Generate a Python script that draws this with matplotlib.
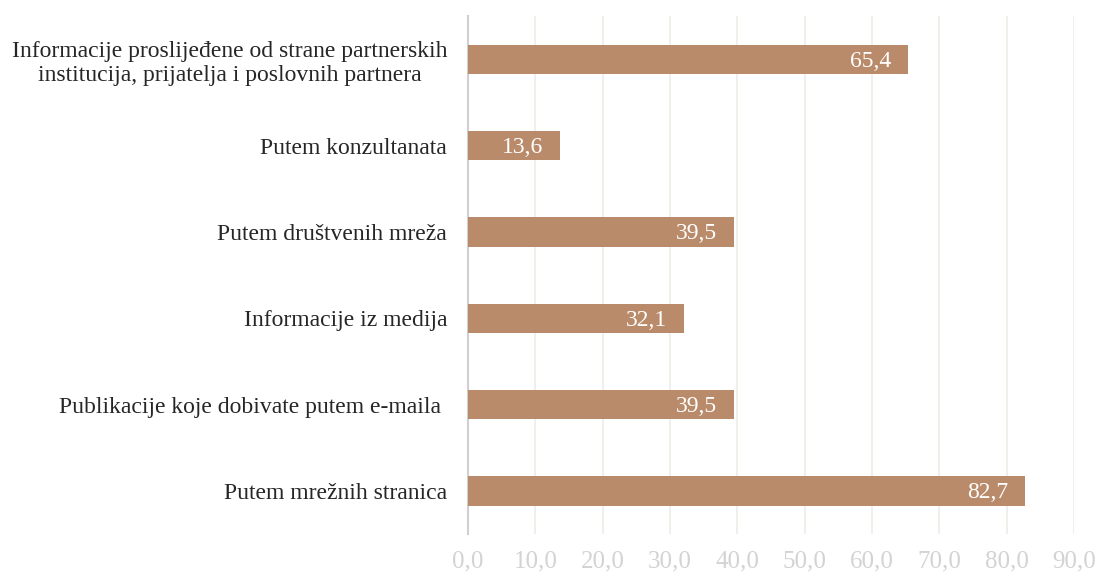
import numpy as np
import matplotlib.pyplot as plt

plt.rcParams['font.family'] = ['Liberation Serif', 'DejaVu Serif']

categories = ['Informacije proslijeđene od strane partnerskih\ninstitucija, prijatelja i poslovnih partnera',
              'Putem konzultanata',
              'Putem društvenih mreža',
              'Informacije iz medija',
              'Publikacije koje dobivate putem e-maila ',
              'Putem mrežnih stranica']
values = [65.4, 13.6, 39.5, 32.1, 39.5, 82.7]
ticks = [0, 10, 20, 30, 40, 50, 60, 70, 80, 90]
tick_labels = ['0,0', '10,0', '20,0', '30,0', '40,0', '50,0', '60,0', '70,0', '80,0', '90,0']

fig = plt.figure(figsize=(10.99, 5.72), dpi=100)
ax = fig.add_axes([0.4258, 0.0664, 0.5515, 0.9056])

y = np.arange(len(categories))
ax.barh(y, values, height=0.34, color='#B98B6A', zorder=3)
ax.set_ylim(len(categories) - 0.5, -0.5)
ax.set_xlim(0, 90)

for yi, v in zip(y, values):
    ax.annotate(('%.1f' % v).replace('.', ','), (v, yi), xytext=(-12, -1.5),
                textcoords='offset points', ha='right', va='center',
                color='white', fontsize=17, zorder=4)

ax.set_yticks(y)
ax.set_yticklabels(categories, fontsize=17, color='#262626', ha='right',
                   multialignment='center')
ax.tick_params(axis='y', length=0, pad=15)
ax.set_xticks(ticks)
ax.set_xticklabels(tick_labels, fontsize=18, color='#D3D3D3')
ax.tick_params(axis='x', length=0, pad=12)

ax.grid(axis='x', color='#EEEEE8', linewidth=1.2, zorder=0)
for s in ['top', 'right', 'bottom']:
    ax.spines[s].set_visible(False)
ax.spines['left'].set_color('#D0D0D0')
ax.spines['left'].set_linewidth(1.5)

plt.savefig('out.png', dpi=100)
